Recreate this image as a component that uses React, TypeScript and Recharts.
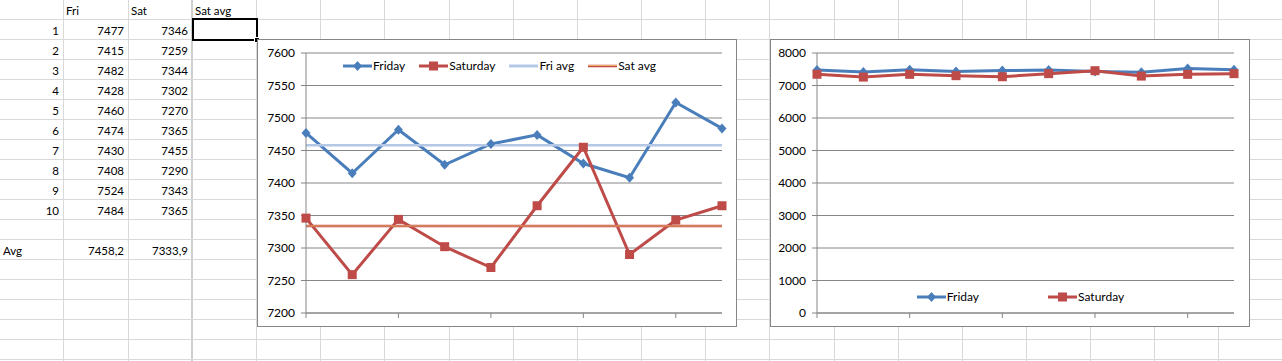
import React from "react";
import { CartesianGrid, Legend, Line, LineChart, XAxis, YAxis } from "recharts";

const days = [1, 2, 3, 4, 5, 6, 7, 8, 9, 10];
const friday = [7477, 7415, 7482, 7428, 7460, 7474, 7430, 7408, 7524, 7484];
const saturday = [7346, 7259, 7344, 7302, 7270, 7365, 7455, 7290, 7343, 7365];
const friAvg = 7458.2;
const satAvg = 7333.9;
const zoomTicks = [7200, 7250, 7300, 7350, 7400, 7450, 7500, 7550, 7600];
const fullTicks = [0, 1000, 2000, 3000, 4000, 5000, 6000, 7000, 8000];
const xTicks = [1, 3, 5, 7, 9];

const rows = days.map((d, i) => ({ day: d, fri: friday[i], sat: saturday[i], friAvg, satAvg }));

const BLUE = "#4a7ebb";
const RED = "#be4b48";
const LIGHT_BLUE = "#b4c8e6";
const ORANGE = "#f6c46e";
const AXIS = "#868686";
const GRIDLINE = "#d9d9d9";
const FONT = "Lato, 'Open Sans', sans-serif";

const Diamond = (props: any) => {
  const { cx, cy, index } = props;
  if (cx == null || cy == null) return <g key={index} />;
  const w = 4.5;
  const h = 5;
  return (
    <polygon
      key={index}
      points={`${cx},${cy - h} ${cx + w},${cy} ${cx},${cy + h} ${cx - w},${cy}`}
      fill={BLUE}
    />
  );
};

const Square = (props: any) => {
  const { cx, cy, index } = props;
  if (cx == null || cy == null) return <g key={index} />;
  return <rect key={index} x={cx - 4.5} y={cy - 4.5} width={9} height={9} fill={RED} />;
};

function LegendIcon({ kind }: { kind: string }) {
  return (
    <svg width={29} height={12} style={{ display: "block" }}>
      {kind === "fri" && (
        <>
          <line x1={0} y1={6} x2={29} y2={6} stroke={BLUE} strokeWidth={3} />
          <polygon points="14.5,1 19,6 14.5,11 10,6" fill={BLUE} />
        </>
      )}
      {kind === "sat" && (
        <>
          <line x1={0} y1={6} x2={29} y2={6} stroke={RED} strokeWidth={3} />
          <rect x={10} y={1.5} width={9} height={9} fill={RED} />
        </>
      )}
      {kind === "friAvg" && <line x1={0} y1={6} x2={29} y2={6} stroke={LIGHT_BLUE} strokeWidth={3} />}
      {kind === "satAvg" && (
        <>
          <line x1={0} y1={6} x2={29} y2={6} stroke={RED} strokeWidth={2.5} />
          <line x1={0} y1={5.5} x2={29} y2={5.5} stroke={ORANGE} strokeWidth={0.8} />
        </>
      )}
    </svg>
  );
}

function LegendRow({ items, gap }: { items: { kind: string; label: string }[]; gap: number }) {
  return (
    <div style={{ display: "flex", justifyContent: "center", alignItems: "center", gap, fontFamily: FONT, fontSize: 12, color: "#000" }}>
      {items.map((it) => (
        <div key={it.kind} style={{ display: "flex", alignItems: "center" }}>
          <LegendIcon kind={it.kind} />
          <span style={{ marginLeft: 1 }}>{it.label}</span>
        </div>
      ))}
    </div>
  );
}

const noLabel = (p: any) => <g key={p.index} />;

function ChartBox({ left, children }: { left: number; children: React.ReactNode }) {
  return (
    <div
      style={{
        position: "absolute",
        left,
        top: 39,
        width: 480,
        height: 288,
        boxSizing: "border-box",
        border: `1px solid ${AXIS}`,
        background: "#fff",
        fontFamily: FONT,
      }}
    >
      {children}
    </div>
  );
}

function ZoomChart() {
  return (
    <LineChart width={478} height={286} data={rows} margin={{ top: 13, right: 14, left: 0, bottom: 0 }}>
      <CartesianGrid vertical={false} stroke={AXIS} />
      <XAxis
        dataKey="day"
        type="number"
        domain={[1, 10]}
        ticks={xTicks}
        tick={noLabel}
        tickSize={5}
        height={13}
        axisLine={{ stroke: AXIS }}
        tickLine={{ stroke: AXIS }}
      />
      <YAxis
        domain={[7200, 7600]}
        ticks={zoomTicks}
        width={48}
        tickSize={5}
        tickMargin={6}
        tick={{ fill: "#000", fontSize: 12 }}
        axisLine={{ stroke: AXIS }}
        tickLine={{ stroke: AXIS }}
      />
      <Legend
        layout="horizontal"
        verticalAlign="middle"
        align="center"
        wrapperStyle={{ top: 18, left: 0, width: 483 }}
        content={() => (
          <LegendRow
            gap={14}
            items={[
              { kind: "fri", label: "Friday" },
              { kind: "sat", label: "Saturday" },
              { kind: "friAvg", label: "Fri avg" },
              { kind: "satAvg", label: "Sat avg" },
            ]}
          />
        )}
      />
      <Line dataKey="fri" name="Friday" stroke={BLUE} strokeWidth={3} dot={Diamond} activeDot={false} isAnimationActive={false} />
      <Line dataKey="sat" name="Saturday" stroke={RED} strokeWidth={3} dot={Square} activeDot={false} isAnimationActive={false} />
      <Line dataKey="friAvg" name="Fri avg" stroke={LIGHT_BLUE} strokeWidth={2.5} dot={false} activeDot={false} isAnimationActive={false} />
      <Line dataKey="satAvg" name="Sat avg" stroke={RED} strokeWidth={2.5} dot={false} activeDot={false} isAnimationActive={false} />
      <Line dataKey="satAvg" name="Sat avg top" legendType="none" stroke={ORANGE} strokeWidth={0.8} dot={false} activeDot={false} isAnimationActive={false} />
    </LineChart>
  );
}

function FullChart() {
  return (
    <LineChart width={478} height={286} data={rows} margin={{ top: 13, right: 15, left: 0, bottom: 0 }}>
      <CartesianGrid vertical={false} stroke={AXIS} />
      <XAxis
        dataKey="day"
        type="number"
        domain={[1, 10]}
        ticks={xTicks}
        tick={noLabel}
        tickSize={5}
        height={13}
        axisLine={{ stroke: AXIS }}
        tickLine={{ stroke: AXIS }}
      />
      <YAxis
        domain={[0, 8000]}
        ticks={fullTicks}
        width={46}
        tickSize={5}
        tickMargin={6}
        tick={{ fill: "#000", fontSize: 12 }}
        axisLine={{ stroke: AXIS }}
        tickLine={{ stroke: AXIS }}
      />
      <Legend
        layout="horizontal"
        verticalAlign="middle"
        align="center"
        wrapperStyle={{ top: 249, left: 21, width: 457 }}
        content={() => (
          <LegendRow
            gap={69}
            items={[
              { kind: "fri", label: "Friday" },
              { kind: "sat", label: "Saturday" },
            ]}
          />
        )}
      />
      <Line dataKey="fri" name="Friday" stroke={BLUE} strokeWidth={3} dot={Diamond} activeDot={false} isAnimationActive={false} />
      <Line dataKey="sat" name="Saturday" stroke={RED} strokeWidth={3} dot={Square} activeDot={false} isAnimationActive={false} />
    </LineChart>
  );
}

const fmt = (v: number) => v.toFixed(1).replace(".", ",");

// column edges of the sheet
const colEdges = [63, 128, ...Array.from({ length: 18 }, (_, k) => Math.round(192 + 64.15 * k))];
const rowCount = 18;

function Cell({ x, w, y, text, align }: { x: number; w: number; y: number; text: string; align: "left" | "right" }) {
  return (
    <div
      style={{
        position: "absolute",
        left: x,
        top: y + 1,
        width: w,
        height: 19,
        lineHeight: "19px",
        textAlign: align,
        boxSizing: "border-box",
        padding: align === "right" ? "0 4px 0 0" : "0 0 0 3px",
        fontFamily: FONT,
        fontSize: 11.5,
        color: "#000",
        whiteSpace: "nowrap",
      }}
    >
      {text}
    </div>
  );
}

export default function App() {
  return (
    <div style={{ position: "absolute", left: 0, top: 0, width: 1282, height: 361, overflow: "hidden", background: "#fff" }}>
      {colEdges.map((x, i) => (
        <div key={"v" + i} style={{ position: "absolute", left: x, top: 0, width: 1, height: 361, background: GRIDLINE }} />
      ))}
      <div style={{ position: "absolute", left: 191, top: 0, width: 2, height: 361, background: "#cfcfcf" }} />
      {Array.from({ length: rowCount }, (_, k) => (
        <div key={"h" + k} style={{ position: "absolute", left: 0, top: 19 + 20 * k, width: 1282, height: 1, background: GRIDLINE }} />
      ))}

      <Cell x={63} w={65} y={0} text="Fri" align="left" />
      <Cell x={128} w={64} y={0} text="Sat" align="left" />
      <Cell x={192} w={64} y={0} text="Sat avg" align="left" />
      {days.map((d, i) => (
        <React.Fragment key={d}>
          <Cell x={0} w={63} y={20 + 20 * i} text={String(d)} align="right" />
          <Cell x={63} w={65} y={20 + 20 * i} text={String(friday[i])} align="right" />
          <Cell x={128} w={64} y={20 + 20 * i} text={String(saturday[i])} align="right" />
        </React.Fragment>
      ))}
      <Cell x={0} w={63} y={240} text="Avg" align="left" />
      <Cell x={63} w={65} y={240} text={fmt(friAvg)} align="right" />
      <Cell x={128} w={64} y={240} text={fmt(satAvg)} align="right" />

      <div style={{ position: "absolute", left: 192, top: 18, width: 66, height: 23, boxSizing: "border-box", border: "2px solid #000" }} />
      <div style={{ position: "absolute", left: 254, top: 37, width: 6, height: 6, boxSizing: "border-box", background: "#000", border: "1px solid #fff" }} />

      <ChartBox left={257}>
        <ZoomChart />
      </ChartBox>
      <ChartBox left={770}>
        <FullChart />
      </ChartBox>
    </div>
  );
}
